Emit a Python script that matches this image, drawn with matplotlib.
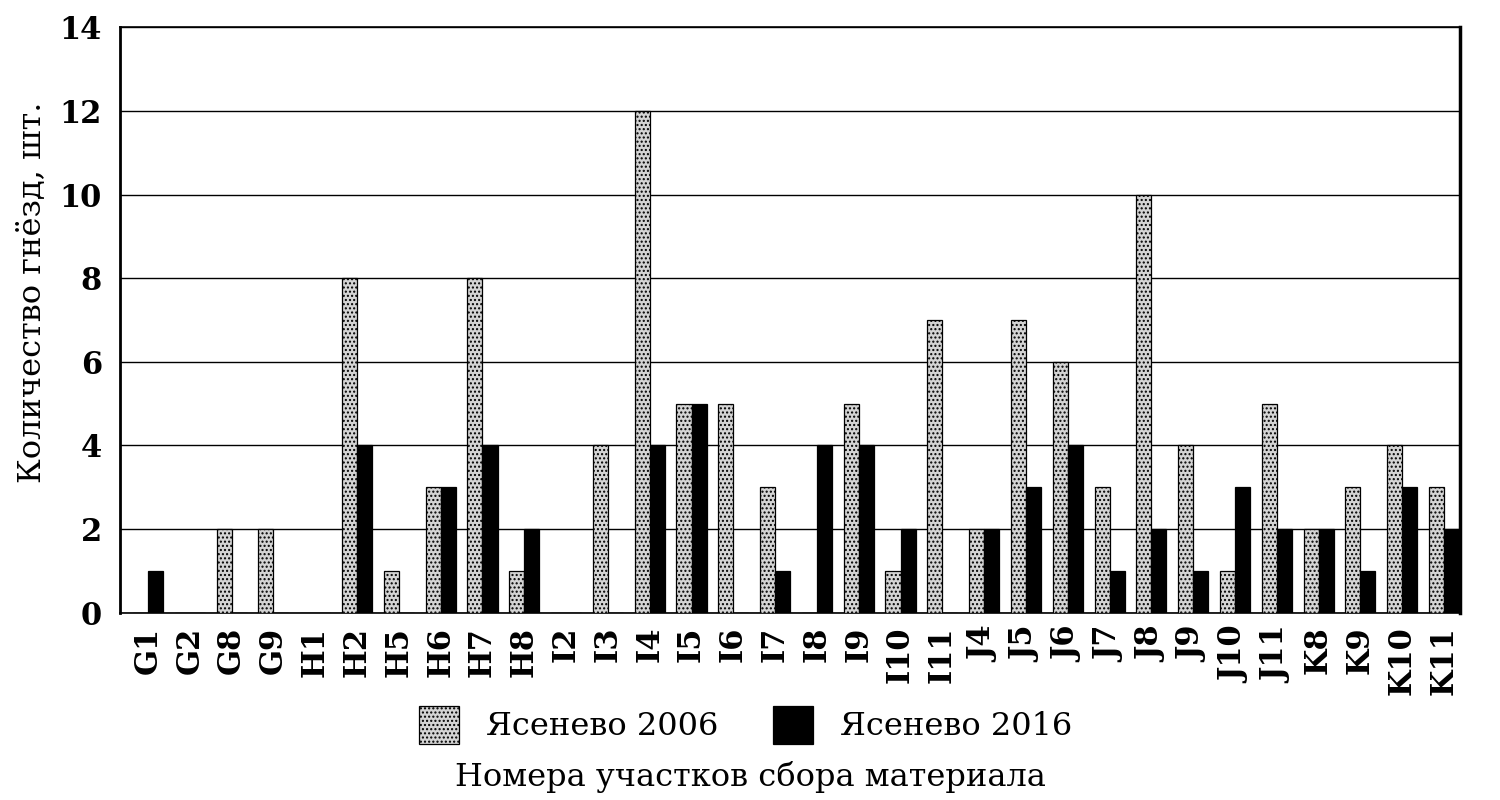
import numpy as np
import matplotlib
matplotlib.use('Agg')
import matplotlib.pyplot as plt

plt.rcParams['font.family'] = ['DejaVu Serif']
plt.rcParams['hatch.linewidth'] = 1.0

# данные
sites = ['G1', 'G2', 'G8', 'G9', 'H1', 'H2', 'H5', 'H6', 'H7', 'H8', 'I2', 'I3',
         'I4', 'I5', 'I6', 'I7', 'I8', 'I9', 'I10', 'I11', 'J4', 'J5', 'J6', 'J7',
         'J8', 'J9', 'J10', 'J11', 'K8', 'K9', 'K10', 'K11']
yas2006 = [0, 0, 2, 2, 0, 8, 1, 3, 8, 1, 0, 4,
           12, 5, 5, 3, 0, 5, 1, 7, 2, 7, 6, 3,
           10, 4, 1, 5, 2, 3, 4, 3]
yas2016 = [1, 0, 0, 0, 0, 4, 0, 3, 4, 2, 0, 0,
           4, 5, 0, 1, 4, 4, 2, 0, 2, 3, 4, 1,
           2, 1, 3, 2, 2, 1, 3, 2]
yticks = [0, 2, 4, 6, 8, 10, 12, 14]

fig = plt.figure(figsize=(15, 8), dpi=100)
ax = fig.add_axes([0.08, 0.234, 0.893, 0.732])

x = np.arange(len(sites))
w = 0.36

ax.bar(x - w / 2, yas2006, w, color='#d4d4d4', edgecolor='black', linewidth=0.9,
       hatch='....', label='Ясенево 2006', zorder=3)
ax.bar(x + w / 2, yas2016, w, color='black', edgecolor='black', linewidth=0.9,
       label='Ясенево 2016', zorder=3)

ax.set_ylim(0, 14)
ax.set_xlim(-0.67, 31.37)
ax.set_yticks(yticks)
ax.set_yticklabels([str(t) for t in yticks], fontsize=22, fontweight='bold')
ax.set_xticks(x)
ax.set_xticklabels(sites, rotation=90, fontsize=22, fontweight='bold')
ax.tick_params(axis='y', length=0, pad=13)
ax.tick_params(axis='x', length=0, pad=10)

ax.yaxis.grid(True, color='black', linewidth=1.0, zorder=0)
ax.set_axisbelow(True)
for s in ax.spines.values():
    s.set_linewidth(1.2)
ax.spines['left'].set_linewidth(2)
ax.spines['right'].set_linewidth(2.5)

ax.set_ylabel('Количество гнёзд, шт.', fontsize=23)
ax.yaxis.set_label_coords(-0.054, 0.548)

fig.legend(loc='center', bbox_to_anchor=(0.497, 0.094), ncol=2, frameon=False,
           fontsize=23, handlelength=1.25, handleheight=1.45, handletextpad=0.85,
           columnspacing=1.7)
fig.text(0.5, 0.029, 'Номера участков сбора материала', ha='center', va='center',
         fontsize=23)

plt.savefig('out.png')
